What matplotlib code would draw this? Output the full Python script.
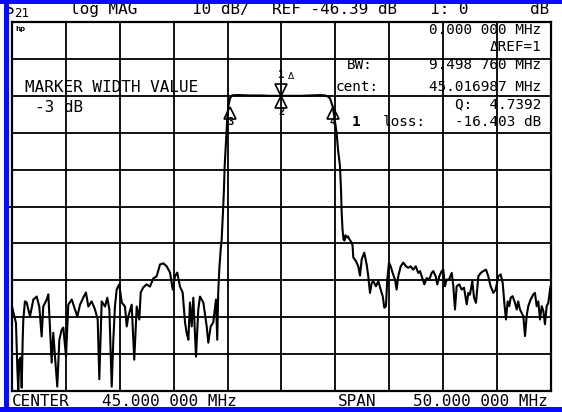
import numpy as np
import matplotlib
matplotlib.use("Agg")
import matplotlib.pyplot as plt
import matplotlib.transforms as mtransforms
from matplotlib.patches import Rectangle

# ---------------- data ----------------
center_mhz = 45.0
span_mhz = 50.0
ref_db = -46.39
scale_db = 10.0

freq_mhz = [
    20.0, 20.19, 20.37, 20.49, 20.58, 20.68, 20.81, 20.90, 20.99, 21.05,
    21.20, 21.36, 21.67, 21.98, 22.29, 22.53, 22.75, 22.90, 23.22, 23.37,
    23.52, 23.68, 23.83, 23.99, 24.20, 24.39, 24.61, 24.76, 25.01, 25.22,
    25.54, 25.84, 26.06, 26.31, 26.61, 26.86, 27.08, 27.39, 27.70, 27.95,
    28.10, 28.32, 28.63, 28.84, 29.03, 29.25, 29.40, 29.55, 29.71, 29.95,
    30.18, 30.48, 30.64, 30.79, 31.10, 31.34, 31.57, 31.81, 31.94, 32.18,
    32.49, 32.80, 33.10, 33.42, 33.73, 34.04, 34.35, 34.66, 34.91, 35.12,
    35.33, 35.58, 35.83, 36.05, 36.20, 36.36, 36.51, 36.67, 36.82, 37.07,
    37.28, 37.44, 37.75, 38.06, 38.21, 38.43, 38.67, 38.92, 39.04, 39.13,
    39.23, 39.36, 39.45, 39.52, 39.57, 39.66, 39.73, 39.84, 39.92, 39.98,
    40.06, 40.22, 40.40, 40.68, 41.15, 42.08, 43.00, 43.93, 45.00, 45.79,
    46.71, 47.64, 48.57, 49.03, 49.31, 49.50, 49.75, 49.87, 50.00, 50.12,
    50.24, 50.42, 50.52, 50.58, 50.66, 50.75, 50.85, 50.93, 51.07, 51.17,
    51.31, 51.45, 51.59, 51.66, 51.91, 52.12, 52.28, 52.44, 52.68, 52.90,
    53.05, 53.21, 53.37, 53.51, 53.76, 53.98, 54.20, 54.39, 54.54, 54.69,
    54.81, 54.97, 55.13, 55.31, 55.53, 55.68, 55.83, 56.06, 56.30, 56.55,
    56.76, 56.98, 57.22, 57.45, 57.69, 57.85, 58.10, 58.25, 58.47, 58.71,
    58.93, 59.08, 59.30, 59.45, 59.64, 59.86, 60.01, 60.16, 60.32, 60.54,
    60.79, 60.94, 61.09, 61.25, 61.49, 61.71, 61.93, 62.18, 62.33, 62.48,
    62.70, 62.86, 63.04, 63.26, 63.48, 63.72, 63.97, 64.18, 64.40, 64.65,
    64.87, 65.11, 65.33, 65.52, 65.67, 65.82, 65.98, 66.13, 66.26, 66.44,
    66.66, 66.82, 66.96, 67.12, 67.28, 67.43, 67.59, 67.74, 67.89, 68.11,
    68.36, 68.51, 68.67, 68.82, 68.98, 69.14, 69.29, 69.44, 69.60, 69.75,
    69.91, 70.00,
]

s21_db = [
    -73.5, -75.8, -78.0, -89.9, -96.0, -87.9, -87.3, -95.5, -82.5, -77.0,
    -72.1, -72.4, -76.2, -71.6, -70.8, -73.5, -81.6, -73.5, -71.6, -70.2,
    -78.9, -88.7, -80.6, -87.1, -95.2, -82.5, -79.8, -79.2, -87.1, -73.0,
    -71.6, -74.3, -76.2, -73.0, -71.1, -69.7, -73.5, -72.1, -74.3, -77.0,
    -93.2, -72.1, -73.5, -71.1, -74.3, -95.2, -82.5, -73.5, -68.9, -67.5,
    -72.4, -73.5, -78.9, -76.2, -73.0, -87.9, -73.5, -77.0, -69.7, -68.3,
    -67.5, -68.1, -65.9, -65.3, -62.1, -61.8, -62.6, -64.3, -68.9, -65.3,
    -64.3, -68.1, -69.7, -77.8, -80.6, -82.5, -72.4, -78.9, -71.1, -87.1,
    -74.3, -70.8, -72.4, -78.9, -83.3, -78.9, -77.8, -71.6, -82.5, -69.7,
    -63.4, -58.0, -55.3, -51.2, -48.0, -41.8, -35.3, -29.6, -25.5, -22.0,
    -19.3, -17.1, -16.3, -16.2, -16.2, -16.3, -16.3, -16.4, -16.4, -16.4,
    -16.4, -16.3, -16.2, -16.3, -16.6, -17.1, -19.3, -21.5, -24.2, -26.6,
    -30.9, -35.3, -41.8, -48.0, -52.6, -55.3, -55.6, -54.2, -54.8, -54.5,
    -55.3, -55.9, -56.9, -60.2, -61.2, -62.6, -65.1, -60.7, -58.9, -62.1,
    -65.3, -69.8, -67.1, -66.6, -68.0, -66.6, -68.9, -70.7, -73.8, -73.4,
    -66.2, -61.6, -62.6, -64.4, -66.2, -68.9, -65.3, -62.6, -61.6, -62.6,
    -63.0, -62.6, -63.5, -62.6, -64.4, -63.9, -66.2, -67.5, -65.8, -66.2,
    -64.4, -63.9, -65.3, -67.5, -65.3, -63.9, -63.5, -68.0, -66.2, -66.2,
    -64.4, -68.0, -74.3, -68.0, -67.5, -68.9, -68.4, -72.9, -69.8, -70.3,
    -66.6, -71.1, -72.5, -65.3, -64.4, -63.9, -63.5, -65.3, -68.0, -69.8,
    -68.9, -65.3, -64.8, -67.1, -72.5, -77.0, -72.1, -73.4, -71.1, -70.7,
    -72.5, -74.3, -72.1, -74.3, -75.2, -76.1, -81.5, -76.1, -73.4, -71.6,
    -70.2, -69.8, -73.4, -72.1, -77.0, -73.4, -74.7, -78.3, -73.4, -72.5,
    -68.9, -67.5,
]

marker_ids = ["1", "2", "3", "4"]
marker_freq = [45.0, 45.0, 40.2676, 49.7664]
marker_db = [-16.403, -16.403, -19.403, -19.403]

# ---------------- figure ----------------
W, H = 562, 412
fig = plt.figure(figsize=(W / 100, H / 100), dpi=100)
fig.patch.set_facecolor("white")

MONO = "DejaVu Sans Mono"

ax = fig.add_axes([12 / W, 1 - 391 / H, 539 / W, 369 / H])
ax.set_facecolor("white")
ax.set_xlim(center_mhz - span_mhz / 2, center_mhz + span_mhz / 2)
ax.set_ylim(ref_db - 5 * scale_db, ref_db + 5 * scale_db)
ax.set_xticks(np.linspace(center_mhz - span_mhz / 2, center_mhz + span_mhz / 2, 11))
ax.set_yticks(np.linspace(ref_db - 5 * scale_db, ref_db + 5 * scale_db, 11))
ax.grid(True, color="black", lw=1.3)
ax.tick_params(length=0, labelbottom=False, labelleft=False)
for s in ax.spines.values():
    s.set_linewidth(1.6)
    s.set_color("black")

ax.plot(freq_mhz, s21_db, color="black", lw=1.5, zorder=3)

# reference position indicator
bt = mtransforms.blended_transform_factory(ax.transAxes, ax.transData)
ax.plot([-0.008, 0], [ref_db, ref_db], color="black", lw=1.3,
        transform=bt, clip_on=False)

# markers
up_tr = mtransforms.offset_copy(ax.transData, fig=fig, x=0, y=-6, units="dots")
dn_tr = mtransforms.offset_copy(ax.transData, fig=fig, x=0, y=6, units="dots")
ax.plot(marker_freq[0], marker_db[0], ls="none", marker="v", ms=8.5,
        mfc="none", mec="black", mew=1.2, transform=dn_tr, zorder=4, clip_on=False)
ax.plot(marker_freq[1:], marker_db[1:], ls="none", marker="^", ms=8.5,
        mfc="none", mec="black", mew=1.2, transform=up_tr, zorder=4, clip_on=False)

label_offsets = [(0, 21), (0, -16), (0, -15.5), (0, -15.5)]
for mid, f, d, off in zip(marker_ids, marker_freq, marker_db, label_offsets):
    ax.annotate(mid, xy=(f, d), xytext=off, textcoords="offset pixels",
                ha="center", va="center", fontsize=7.5, family=MONO,
                fontweight="bold", zorder=5)
ax.annotate("\u0394", xy=(marker_freq[0], marker_db[0]), xytext=(9, 19),
            textcoords="offset pixels", ha="center", va="center",
            fontsize=6.5, family="DejaVu Sans", zorder=5)


def ftext(x, y, s, size=11.5, ha="left", **kw):
    fig.text(x / W, 1 - y / H, s, ha=ha, va="baseline", fontsize=size,
             family=MONO, zorder=5, **kw)


# header
ftext(5, 14, "S")
ftext(14, 17, "21", size=9)
ftext(70, 14, "log MAG")
ftext(192, 14, "10 dB/")
ftext(272, 14, "REF -46.39 dB")
ftext(430, 14, "1: 0")
ftext(549, 14, "dB", ha="right")

# footer
ftext(12, 406, "CENTER")
ftext(102, 406, "45.000 000 MHz")
ftext(338, 406, "SPAN")
ftext(548, 406, "50.000 000 MHz", ha="right")

# right panel
PS = 10.4
ftext(541, 34, "0.000 000 MHz", size=PS, ha="right")
ftext(541, 51, "\u0394REF=1", size=PS, ha="right")
ftext(347, 69, "BW:", size=PS)
ftext(541, 69, "9.498 760 MHz", size=PS, ha="right")
ftext(336, 91, "cent:", size=PS)
ftext(541, 91, "45.016987 MHz", size=PS, ha="right")
ftext(541, 108, "Q:  4.7392", size=PS, ha="right")
ftext(352, 126, "1", size=PS, fontweight="bold")
ftext(383, 126, "loss:", size=PS)
ftext(541, 126, "-16.403 dB", size=PS, ha="right")

# left panel
ftext(25, 92, "MARKER WIDTH VALUE")
ftext(35, 112, "-3 dB")

# hp logo
fig.text(15 / W, 1 - 31 / H, "hp", fontsize=5, fontweight="bold",
         family="DejaVu Sans", ha="left", va="baseline", zorder=5)

# blue frame
blue = "#0a0aff"
fig.add_artist(Rectangle((0, 1 - 3.5 / H), 1, 3.5 / H, transform=fig.transFigure,
                         facecolor=blue, edgecolor="none", zorder=10))
fig.add_artist(Rectangle((0, 0), 1, 5.5 / H, transform=fig.transFigure,
                         facecolor=blue, edgecolor="none", zorder=10))
fig.add_artist(Rectangle((3.5 / W, 0), 5 / W, 1, transform=fig.transFigure,
                         facecolor=blue, edgecolor="none", zorder=10))

fig.savefig("out.png", dpi=100, facecolor="white")
